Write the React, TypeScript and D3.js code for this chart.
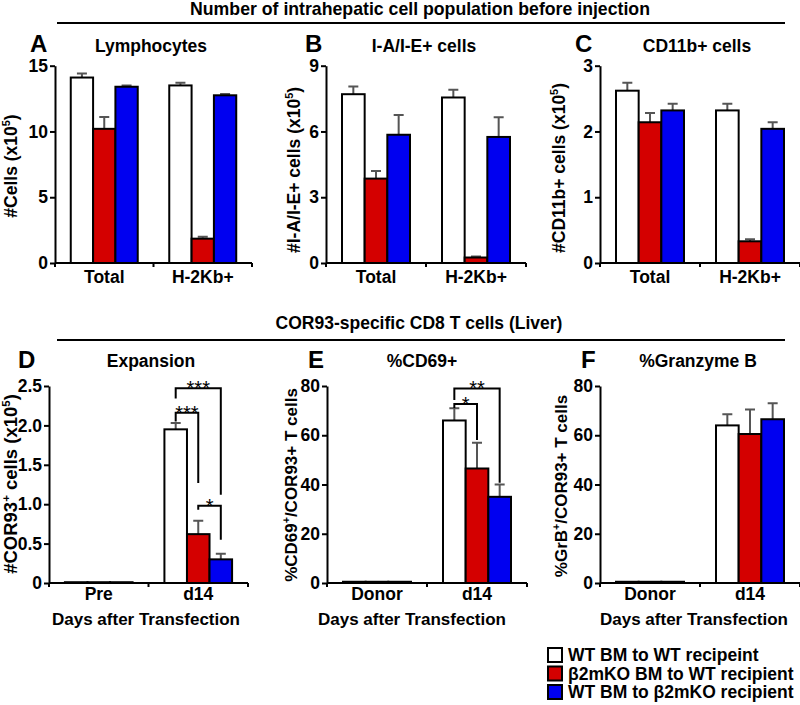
import React, { useEffect, useRef } from 'react';
import * as d3 from 'd3';

const FONT = '"Liberation Sans", Arial, Helvetica, sans-serif';

// groups shown in every panel
const seriesNames = ['WT BM to WT recipeint', 'β2mKO BM to WT recipient', 'WT BM to β2mKO recipient'];
const seriesColors = ['#ffffff', '#d40000', '#0000f0'];

// top row: before injection
const beforeCats = ['Total', 'H-2Kb+'];
const lymphMean = [[14.1, 10.2, 13.4], [13.5, 1.85, 12.75]];
const lymphSem = [[0.3, 0.9, 0.1], [0.2, 0.15, 0.1]];
const lymphTicks = [0, 5, 10, 15];

const iaieMean = [[7.7, 3.85, 5.85], [7.55, 0.25, 5.75]];
const iaieSem = [[0.35, 0.35, 0.9], [0.35, 0.05, 0.9]];
const iaieTicks = [0, 3, 6, 9];

const cd11bMean = [[2.62, 2.14, 2.32], [2.32, 0.33, 2.04]];
const cd11bSem = [[0.12, 0.14, 0.1], [0.1, 0.03, 0.1]];
const cd11bTicks = [0, 1, 2, 3];

// bottom row: COR93-specific CD8 T cells
const expCats = ['Pre', 'd14'];
const expMean = [[0.01, 0.01, 0.01], [1.95, 0.62, 0.3]];
const expSem = [[0, 0, 0], [0.08, 0.17, 0.07]];
const expTicks = [0, 0.5, 1, 1.5, 2, 2.5];

const donorCats = ['Donor', 'd14'];
const cd69Mean = [[0.5, 0.5, 0.5], [66, 46.5, 35]];
const cd69Sem = [[0, 0, 0], [5, 10.5, 5]];
const grbMean = [[0.5, 0.5, 0.5], [64, 60.5, 66.5]];
const grbSem = [[0, 0, 0], [4.5, 10, 6.5]];
const pctTicks = [0, 20, 40, 60, 80];

// significance brackets on d14: series a..b, bar height, leg ends, stars
const expSig = [
  { a: 0, b: 2, y: 2.47, ya: 2.34, yb: 1.12, label: '***' },
  { a: 0, b: 1, y: 2.16, ya: 2.05, yb: 1.27, label: '***' },
  { a: 1, b: 2, y: 0.98, ya: 0.93, yb: 0.55, label: '*' },
];
const cd69Sig = [
  { a: 0, b: 2, y: 79, ya: 74.3, yb: 40.7, label: '**' },
  { a: 0, b: 1, y: 72.7, ya: 71.1, yb: 58.1, label: '*' },
];

const TOP = { y: [263, 65.7], letterY: 52, titleY: 52, tickY: 283 };
const BOT = { y: [583, 386], letterY: 368, titleY: 367, tickY: 600 };

const panels = [
  { letter: 'A', letterX: 30, title: 'Lymphocytes', titleX: 151, row: TOP, xr: [55, 252], cats: beforeCats,
    mean: lymphMean, sem: lymphSem, ticks: lymphTicks, fmt: d3.format('d'),
    ylab: [['#Cells (x10'], ['5', 1], [')']], ylabX: 17, ylabY: 166, ylabSize: 17.5 },
  { letter: 'B', letterX: 305, title: 'I-A/I-E+ cells', titleX: 424, row: TOP, xr: [326, 526], cats: beforeCats,
    mean: iaieMean, sem: iaieSem, ticks: iaieTicks, fmt: d3.format('d'),
    ylab: [['#I-A/I-E+ cells (x10'], ['5', 1], [')']], ylabX: 300, ylabY: 170, ylabSize: 17.5 },
  { letter: 'C', letterX: 575, title: 'CD11b+ cells', titleX: 697, row: TOP, xr: [600, 800], cats: beforeCats,
    mean: cd11bMean, sem: cd11bSem, ticks: cd11bTicks, fmt: d3.format('d'),
    ylab: [['#CD11b+ cells (x10'], ['5', 1], [')']], ylabX: 565, ylabY: 168, ylabSize: 17.5 },
  { letter: 'D', letterX: 18, title: 'Expansion', titleX: 151, row: BOT, xr: [49, 248], cats: expCats,
    mean: expMean, sem: expSem, ticks: expTicks, fmt: (d: number) => (d === 0 ? '0' : d3.format('.1f')(d)),
    ylab: [['#COR93'], ['+', 1], [' cells (x10'], ['5', 1], [')']], ylabX: 17, ylabY: 484, ylabSize: 18.5,
    sig: expSig, xlabX: 146 },
  { letter: 'E', letterX: 308, title: '%CD69+', titleX: 422, row: BOT, xr: [327, 527], cats: donorCats,
    mean: cd69Mean, sem: cd69Sem, ticks: pctTicks, fmt: d3.format('d'),
    ylab: [['%CD69'], ['+', 1], ['/COR93+ T cells']], ylabX: 297, ylabY: 485, ylabSize: 17,
    sig: cd69Sig, xlabX: 412 },
  { letter: 'F', letterX: 581, title: '%Granzyme B', titleX: 698, row: BOT, xr: [600, 800], cats: donorCats,
    mean: grbMean, sem: grbSem, ticks: pctTicks, fmt: d3.format('d'),
    ylab: [['%GrB'], ['+', 1], ['/COR93+ T cells']], ylabX: 567, ylabY: 486, ylabSize: 17,
    xlabX: 694 },
];

const drawPanel = (svg: any, p: any) => {
  const g = svg.append('g');
  const x0 = d3.scaleBand().domain(p.cats).range(p.xr).paddingInner(0.32).paddingOuter(0.16);
  const x1 = d3.scaleBand().domain(d3.range(3) as any).range([0, x0.bandwidth()]);
  const y = d3.scaleLinear().domain([0, d3.max(p.ticks) as number]).range(p.row.y);
  const cx = (cat: string, s: number) => (x0(cat) as number) + (x1(s as any) as number) + x1.bandwidth() / 2;

  // y axis
  g.append('g')
    .attr('transform', `translate(${p.xr[0]},0)`)
    .call(d3.axisLeft(y).tickValues(p.ticks).tickFormat(p.fmt).tickSize(5).tickSizeOuter(0).tickPadding(2))
    .call((a: any) => {
      a.attr('font-size', 17.5).attr('font-family', FONT).attr('font-weight', 'bold');
      a.selectAll('path, line').attr('stroke', '#000').attr('stroke-width', 2);
      a.selectAll('text').attr('fill', '#000');
    });

  // x axis with ticks at group boundaries
  const y0 = y(0);
  g.append('line').attr('x1', p.xr[0]).attr('x2', p.xr[1]).attr('y1', y0).attr('y2', y0)
    .attr('stroke', '#000').attr('stroke-width', 2);
  [p.xr[0], (p.xr[0] + p.xr[1]) / 2, p.xr[1]].forEach((tx: number) => {
    g.append('line').attr('x1', tx).attr('x2', tx).attr('y1', y0).attr('y2', y0 + 4)
      .attr('stroke', '#000').attr('stroke-width', 2);
  });
  g.selectAll('.xlab').data(p.cats).enter().append('text')
    .attr('x', (d: string) => (x0(d) as number) + x0.bandwidth() / 2)
    .attr('y', p.row.tickY)
    .attr('text-anchor', 'middle')
    .attr('font-size', 17.5)
    .text((d: string) => d);

  // error bars
  p.cats.forEach((cat: string, i: number) => {
    p.mean[i].forEach((m: number, s: number) => {
      const e = p.sem[i][s];
      if (!e) return;
      const c = cx(cat, s);
      g.append('path')
        .attr('d', `M${c},${y(m)}V${y(m + e)}M${c - 5},${y(m + e)}H${c + 5}`)
        .attr('fill', 'none').attr('stroke', '#555').attr('stroke-width', 2);
    });
  });

  // bars
  p.cats.forEach((cat: string, i: number) => {
    g.selectAll(null).data(p.mean[i]).enter().append('rect')
      .attr('x', (_: number, s: number) => (x0(cat) as number) + (x1(s as any) as number))
      .attr('width', x1.bandwidth())
      .attr('y', (d: number) => y(d))
      .attr('height', (d: number) => y0 - y(d))
      .attr('fill', (_: number, s: number) => seriesColors[s])
      .attr('stroke', '#000').attr('stroke-width', 2);
  });

  // significance brackets
  (p.sig || []).forEach((b: any) => {
    const cat = p.cats[1];
    const xa = cx(cat, b.a);
    const xb = cx(cat, b.b);
    g.append('path')
      .attr('d', `M${xa},${y(b.ya)}V${y(b.y)}H${xb}V${y(b.yb)}`)
      .attr('fill', 'none').attr('stroke', '#000').attr('stroke-width', 2);
    g.append('text').attr('x', (xa + xb) / 2).attr('y', y(b.y) + 7)
      .attr('text-anchor', 'middle').attr('font-size', 20).attr('font-weight', 'normal')
      .text(b.label);
  });

  // panel letter + title
  g.append('text').attr('x', p.letterX).attr('y', p.row.letterY).attr('font-size', 24).text(p.letter);
  g.append('text').attr('x', p.titleX).attr('y', p.row.titleY).attr('text-anchor', 'middle')
    .attr('font-size', 17.5).text(p.title);

  // y label
  const yl = g.append('text')
    .attr('transform', `translate(${p.ylabX},${p.ylabY}) rotate(-90)`)
    .attr('text-anchor', 'middle').attr('font-size', p.ylabSize);
  p.ylab.forEach((seg: any[], k: number) => {
    const prevSup = k > 0 && p.ylab[k - 1][1];
    const t = yl.append('tspan').text(seg[0]);
    if (seg[1]) t.attr('font-size', p.ylabSize * 0.62).attr('dy', -7);
    else if (prevSup) t.attr('dy', 7);
  });

  if (p.xlabX) {
    g.append('text').attr('x', p.xlabX).attr('y', 625).attr('text-anchor', 'middle')
      .attr('font-size', 17).text('Days after Transfection');
  }
};

const App = () => {
  const svgRef = useRef<SVGSVGElement>(null);

  useEffect(() => {
    const svg = d3.select(svgRef.current);
    svg.selectAll('*').remove();
    svg.attr('font-family', FONT).attr('font-weight', 'bold').attr('fill', '#000');

    // section headers
    svg.append('text').attr('x', 420).attr('y', 15).attr('text-anchor', 'middle').attr('font-size', 17.7)
      .text('Number of intrahepatic cell population before injection');
    svg.append('line').attr('x1', 57).attr('x2', 785).attr('y1', 23).attr('y2', 23)
      .attr('stroke', '#000').attr('stroke-width', 2);
    svg.append('text').attr('x', 419).attr('y', 329).attr('text-anchor', 'middle').attr('font-size', 17.5)
      .text('COR93-specific CD8 T cells (Liver)');
    svg.append('line').attr('x1', 57).attr('x2', 785).attr('y1', 340).attr('y2', 340)
      .attr('stroke', '#000').attr('stroke-width', 2);

    panels.forEach(p => drawPanel(svg, p));

    // legend
    const lg = svg.append('g').attr('transform', 'translate(548,648)');
    seriesNames.forEach((name, i) => {
      lg.append('rect').attr('x', 0).attr('y', i * 18.5).attr('width', 14).attr('height', 14)
        .attr('fill', seriesColors[i]).attr('stroke', '#000').attr('stroke-width', 2);
      lg.append('text').attr('x', 20).attr('y', i * 18.5 + 13).attr('font-size', 17.5).text(name);
    });
  }, []);

  return (
    <svg ref={svgRef} width={800} height={705}
      style={{ position: 'absolute', left: 0, top: 0, background: '#fff' }} />
  );
};

export default App;
